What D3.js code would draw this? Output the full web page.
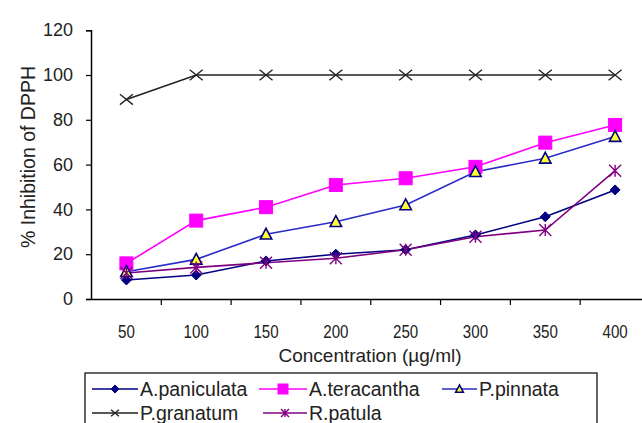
<!DOCTYPE html>
<html><head><meta charset="utf-8">
<script src="https://cdn.jsdelivr.net/npm/d3@7"></script>
<style>body{margin:0;background:#fff}svg{display:block}</style>
</head><body>
<svg id="c" width="642" height="423"></svg>
<script>
const categories = ["50","100","150","200","250","300","350","400"];
const yTicks = [0,20,40,60,80,100,120];
const aPaniculata = [8.5,10.7,17,20,22,28.6,36.7,48.7];
const aTeracantha = [15.9,35,41,50.9,53.9,59,69.8,77.7];
const pPinnata = [12.2,17.7,28.9,34.5,42,56.8,62.8,72.5];
const pGranatum = [89.1,100,100,100,100,100,100,100];
const rPatula = [11.6,14.1,16.2,18.2,22,27.8,30.8,57.3];

const series = [
  {name:"A.paniculata", values:aPaniculata, line:"#000080", marker:"diamond", fill:"#000080", stroke:"#000080"},
  {name:"A.teracantha", values:aTeracantha, line:"#FF00FF", marker:"square", fill:"#FF00FF", stroke:"#FF00FF"},
  {name:"P.pinnata", values:pPinnata, line:"#2B2BC8", marker:"triangle", fill:"#FFFF33", stroke:"#000080"},
  {name:"P.granatum", values:pGranatum, line:"#222222", marker:"x", fill:"none", stroke:"#222222"},
  {name:"R.patula", values:rPatula, line:"#800080", marker:"star", fill:"none", stroke:"#800080"}
];

const FONT = "Arial, 'Liberation Sans', sans-serif";
const svg = d3.select("#c");
const x = d3.scaleBand().domain(categories).range([91.5, 650]);
const y = d3.scaleLinear().domain([0,120]).range([299, 30.2]);

// axes
const gy = svg.append("g").attr("transform","translate(91,0)")
  .call(d3.axisLeft(y).tickValues(yTicks).tickSize(5).tickPadding(13));
gy.select(".domain").attr("stroke","#000").attr("stroke-width",1.5);
gy.selectAll(".tick line").attr("stroke","#000").attr("stroke-width",1.2);
gy.selectAll(".tick text").attr("font-family",FONT).attr("font-size",18).attr("fill","#222");

const gx = svg.append("g").attr("transform","translate(0,299)")
  .call(d3.axisBottom(x).tickSizeOuter(0).tickSize(0).tickPadding(26));
gx.select(".domain").attr("stroke","#000").attr("stroke-width",1.5);
gx.selectAll(".tick text").attr("font-family","'Liberation Sans Narrow', 'Arial Narrow', Arial, sans-serif")
  .attr("font-size",18).attr("fill","#222").attr("transform","scale(0.84,1)");
// band boundary ticks
const bounds = categories.map(c => x(c)).concat([x.range()[1]]);
svg.append("g").selectAll("line").data(bounds.slice(1)).join("line")
  .attr("x1",d=>d).attr("x2",d=>d).attr("y1",299).attr("y2",305)
  .attr("stroke","#000").attr("stroke-width",1.2);

const cx = c => x(c) + x.bandwidth()/2;

function drawMarker(g, type, s, stroke, fill){
  if(type==="diamond"){
    g.append("path").attr("d",`M0,${-s}L${s},0L0,${s}L${-s},0Z`).attr("fill",fill).attr("stroke",stroke).attr("stroke-width",1);
  } else if(type==="square"){
    g.append("rect").attr("x",-s).attr("y",-s).attr("width",2*s).attr("height",2*s).attr("fill",fill).attr("stroke",stroke);
  } else if(type==="triangle"){
    g.append("path").attr("d",`M0,${-s}L${s*0.95},${s*0.8}L${-s*0.95},${s*0.8}Z`).attr("fill",fill).attr("stroke",stroke).attr("stroke-width",1.6);
  } else if(type==="x"){
    g.append("path").attr("d",`M${-s},${-s*0.8}L${s},${s*0.8}M${-s},${s*0.8}L${s},${-s*0.8}`).attr("stroke",stroke).attr("stroke-width",1.4);
  } else if(type==="star"){
    g.append("path").attr("d",`M${-s},${-s}L${s},${s}M${-s},${s}L${s},${-s}M0,${-s}L0,${s}`).attr("stroke",stroke).attr("stroke-width",1.4);
  }
}
const msize = {diamond:5, square:6.5, triangle:6, x:6.5, star:6};

const line = d3.line().x((d,i)=>cx(categories[i])).y(d=>y(d));
series.forEach(s=>{
  svg.append("path").datum(s.values).attr("d",line).attr("fill","none")
    .attr("stroke",s.line).attr("stroke-width",1.6);
});
series.forEach(s=>{
  s.values.forEach((v,i)=>{
    const g = svg.append("g").attr("transform",`translate(${cx(categories[i])},${y(v)})`);
    drawMarker(g, s.marker, msize[s.marker], s.stroke, s.fill);
  });
});

// axis titles
svg.append("text").attr("x",370).attr("y",362).attr("text-anchor","middle")
  .attr("font-family",FONT).attr("font-size",19).attr("fill","#222")
  .text("Concentration (µg/ml)");
svg.append("text").attr("transform","translate(35,157) rotate(-90)").attr("text-anchor","middle")
  .attr("font-family",FONT).attr("font-size",19.5).attr("fill","#222")
  .text("% Inhibition of DPPH");

// legend
svg.append("rect").attr("x",85).attr("y",373).attr("width",512).attr("height",60)
  .attr("fill","#fff").attr("stroke","#000").attr("stroke-width",1.2);
const legPos = [[92,389],[259,389],[442,389],[92,413],[263,413]];
const legLen = [46,48,35,46,44];
series.forEach((s,i)=>{
  const [lx,ly] = legPos[i];
  const L = legLen[i];
  const g = svg.append("g");
  g.append("line").attr("x1",lx).attr("x2",lx+L).attr("y1",ly).attr("y2",ly).attr("stroke",s.line).attr("stroke-width",1.6);
  const mg = g.append("g").attr("transform",`translate(${lx+L/2},${ly})`);
  drawMarker(mg, s.marker, s.marker==="square"?5:4, s.stroke, s.fill);
  g.append("text").attr("x",lx+L+2).attr("y",ly+7).attr("font-family",FONT)
    .attr("font-size",19.5).attr("fill","#222").text(s.name);
});
</script>
</body></html>
